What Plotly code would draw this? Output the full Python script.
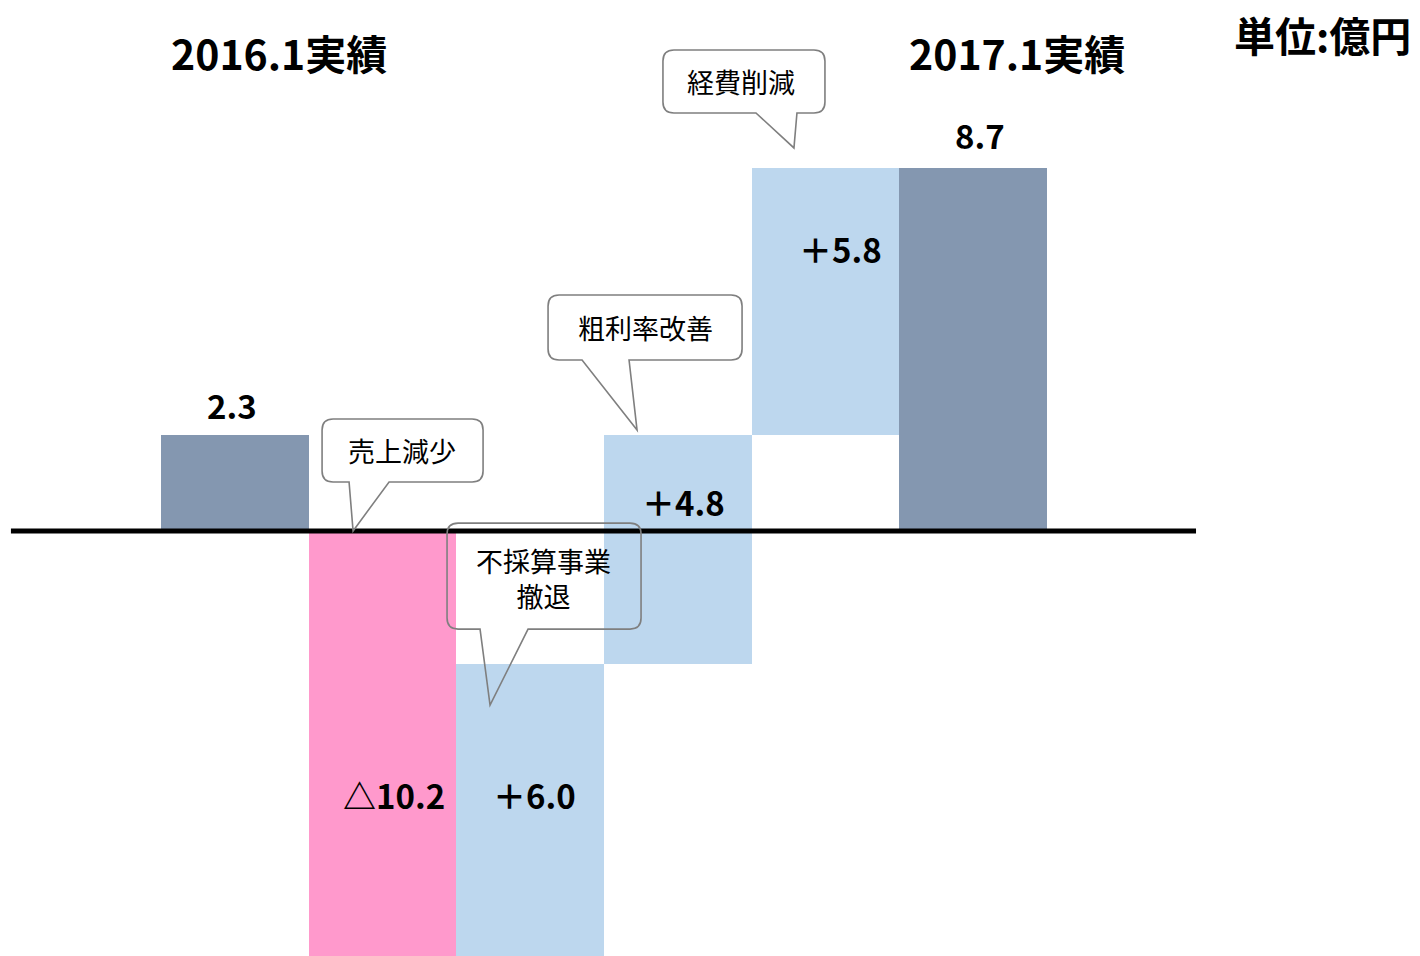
import plotly.graph_objects as go

# ---------------- data ----------------
categories = ["2016.1実績", "売上減少", "不採算事業撤退", "粗利率改善", "経費削減", "2017.1実績"]
label_values = [2.3, -10.2, 6.0, 4.8, 5.8, 8.7]
label_texts = ["2.3", "△10.2", "＋6.0", "＋4.8", "＋5.8", "8.7"]
# bar extents as drawn in the picture (億円)
bar_base = [0.0, 0.0, -10.2, -3.2, 2.3, 0.0]
bar_top = [2.3, -10.2, -3.2, 2.3, 8.7, 8.7]
period_titles = ["2016.1実績", "2017.1実績"]
unit_text = "単位:億円"
callout_texts = ["売上減少", "不採算事業<br>撤退", "粗利率改善", "経費削減"]

# ---------------- styles ----------------
bar_colors = ["#8497B0", "#FF99CC", "#BDD7EE", "#BDD7EE", "#BDD7EE", "#8497B0"]
FONT = "Noto Sans CJK JP"
xpos = list(range(len(categories)))

fig = go.Figure()
fig.add_trace(go.Bar(
    x=xpos,
    y=[t - b for t, b in zip(bar_top, bar_base)],
    base=bar_base,
    width=1.0,
    marker=dict(color=bar_colors, line=dict(width=0)),
    hoverinfo="skip",
    showlegend=False,
))

# value label positions (x offset from bar, y in axis units)
label_pos = [(-0.02, 3.02), (1.08, -6.34), (2.03, -6.34), (3.04, 0.69), (4.10, 6.77), (5.05, 9.5)]
annotations = []
for txt, (lx, ly) in zip(label_texts, label_pos):
    annotations.append(dict(x=lx, y=ly, xref="x", yref="y", text="<b>" + txt + "</b>",
                            showarrow=False, xanchor="center", yanchor="middle",
                            font=dict(family=FONT, size=33, color="black")))

# period titles
for txt, tx in zip(period_titles, [0.30, 5.30]):
    annotations.append(dict(x=tx, y=11.49, xref="x", yref="y", text="<b>" + txt + "</b>",
                            showarrow=False, xanchor="center", yanchor="middle",
                            font=dict(family=FONT, size=41, color="black")))

annotations.append(dict(x=0.995, y=0.964, xref="paper", yref="paper", text="<b>" + unit_text + "</b>",
                        showarrow=False, xanchor="right", yanchor="middle",
                        font=dict(family=FONT, size=41, color="black")))

# callouts: anchor (tip) in axis units, box in pixel offsets from tip (y up)
callouts = [
    dict(ax=0.80, ay=0.0, x0=-31, x1=130, bot=49, top=112, t1=-4, t2=36, tx=49, ty=80),
    dict(ax=1.728, ay=-4.18, x0=-43, x1=151, bot=76, top=182, t1=-10, t2=38, tx=53, ty=127),
    dict(ax=2.724, ay=2.42, x0=-89, x1=105, bot=70, top=135, t1=-55, t2=-8, tx=8, ty=103),
    dict(ax=3.787, ay=9.19, x0=-131, x1=31, bot=35, top=98, t1=-38, t2=3, tx=-53, ty=66),
]


def bubble_path(c, r=11):
    x0, x1, b, t, t1, t2 = c["x0"], c["x1"], c["bot"], c["top"], c["t1"], c["t2"]
    return (f"M {x0 + r},{t} L {x1 - r},{t} Q {x1},{t} {x1},{t - r} "
            f"L {x1},{b + r} Q {x1},{b} {x1 - r},{b} L {t2},{b} L 0,0 L {t1},{b} "
            f"L {x0 + r},{b} Q {x0},{b} {x0},{b + r} L {x0},{t - r} Q {x0},{t} {x0 + r},{t} Z")


shapes = [dict(type="line", xref="x", yref="y", x0=-1.518, x1=6.511, y0=0, y1=0,
               line=dict(color="black", width=5), layer="above")]
for c, txt in zip(callouts, callout_texts):
    shapes.append(dict(type="path", xref="x", yref="y", xsizemode="pixel", ysizemode="pixel",
                       xanchor=c["ax"], yanchor=c["ay"], path=bubble_path(c),
                       line=dict(color="#7F7F7F", width=1.6), fillcolor="rgba(0,0,0,0)",
                       layer="above"))
    annotations.append(dict(x=c["ax"], y=c["ay"], xref="x", yref="y", xshift=c["tx"], yshift=c["ty"],
                            text=txt, showarrow=False, xanchor="center", yanchor="middle",
                            align="center",
                            font=dict(family=FONT, size=27, color="black")))

fig.update_layout(
    width=1420, height=956,
    margin=dict(l=0, r=0, t=0, b=0),
    paper_bgcolor="white", plot_bgcolor="white",
    xaxis=dict(range=[-1.5921, 8.0285], visible=False, fixedrange=True),
    yaxis=dict(range=[-10.2, 12.74], visible=False, fixedrange=True),
    shapes=shapes,
    annotations=annotations,
    bargap=0,
)

fig.write_html("out.html", config={"displayModeBar": False},
               post_script="document.body.style.margin='0';document.body.style.overflow='hidden';")
